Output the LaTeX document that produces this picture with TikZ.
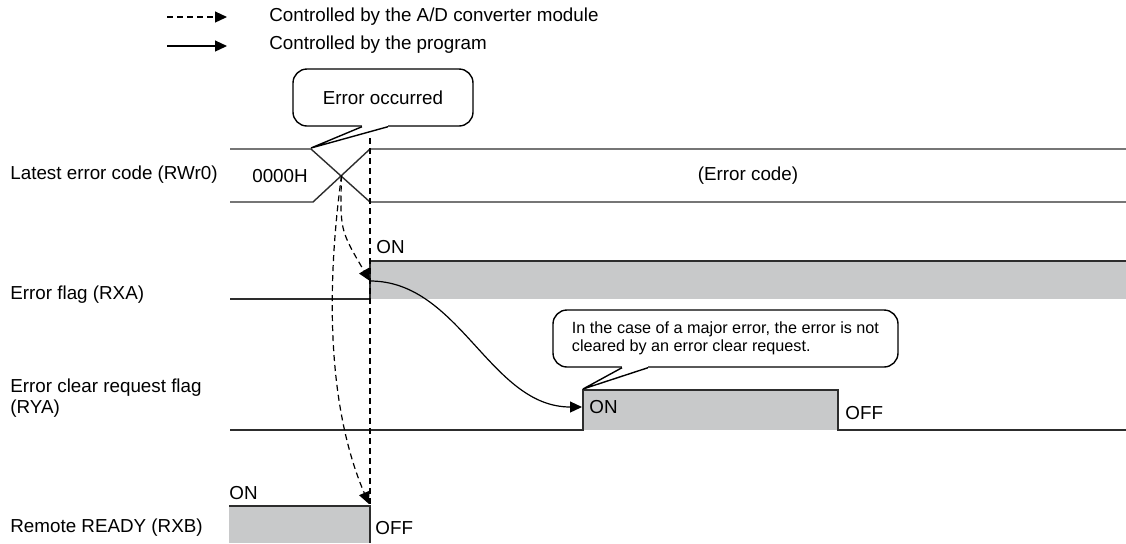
\documentclass[tikz,border=0pt]{standalone}
\usepackage{fontspec}
\setmainfont{Liberation Sans}
\usetikzlibrary{arrows.meta,calc}
\definecolor{cHigh}{RGB}{200,201,202}
\definecolor{cLine}{RGB}{45,45,45}

\begin{document}
\begin{tikzpicture}[
  x=0.5pt, y=-0.5pt,
  font=\fontsize{9.4}{10.2}\selectfont,
  sig/.style={line width=0.7pt, draw=cLine},
  high/.style={fill=cHigh},
  lbl/.style={anchor=west, inner sep=0pt, align=left},
  callout/.style={draw=black, line width=0.7pt, rounded corners=7pt,
    fill=white, align=left, inner sep=0pt},
  byunit/.style={-{Triangle[length=6pt, width=5.5pt]}, line width=0.6pt,
    dash pattern=on 3pt off 2pt},
  byprog/.style={-{Triangle[length=6pt, width=5.5pt]}, line width=0.6pt},
]
\useasboundingbox (0,0) rectangle (1126,543);

% legend
\coordinate (lg1a) at (167,17);
\coordinate (lg1b) at (227,17);
\coordinate (lg2a) at (167,46);
\coordinate (lg2b) at (227,46);
\draw[byunit] (lg1a) -- (lg1b);
\draw[byprog] (lg2a) -- (lg2b);
\node[lbl] (lgunit) at (269,17) {Controlled by the A/D converter module};
\node[lbl] (lgprog) at (269,45) {Controlled by the program};

% signal names
\node[lbl] (lblcode) at (10,175) {Latest error code (RWr0)};
\node[lbl] (lblflag) at (10,295) {Error flag (RXA)};
\node[lbl] (lblclr) at (10,398) {Error clear request flag\\(RYA)};
\node[lbl] (lblrdy) at (10,528) {Remote READY (RXB)};

% high levels
\fill[high] (370,261) rectangle (1126,299);
\fill[high] (583,390) rectangle (838,430);
\fill[high] (229,506) rectangle (370,543);

% latest error code
\draw[sig] (230,149) -- (311,149) -- (370,202) -- (1126,202);
\draw[sig] (230,202) -- (313,202) -- (370,149) -- (1126,149);
\coordinate (cross) at (341.5,175.5);
\node (code0) at (280,176) {0000H};
\node (codeerr) at (748,176) {(Error code)};

% error flag
\draw[sig] (230,299) -- (370,299) -- (370,261) -- (1126,261);
\node[lbl] (flagon) at (376,247) {ON};

% error clear request flag
\draw[sig] (230,430) -- (583,430) -- (583,390) -- (838,390) -- (838,430) -- (1126,430);
\node[lbl] (clron) at (589,407) {ON};
\node[lbl] (clroff) at (845,413) {OFF};

% remote ready
\draw[sig] (229,506) -- (370,506) -- (370,543);
\node[lbl] (rdyon) at (229,493) {ON};
\node[lbl] (rdyoff) at (375,528) {OFF};

% callouts
\node[callout, minimum width=90pt, minimum height=28.5pt, align=center]
  (errocc) at (383,97.5) {Error occurred};
\coordinate (errtip) at (311,148);
\fill[white] ($(errocc.south)+(-21,-2)$) rectangle ($(errocc.south)+(5,2)$);
\draw[line width=0.7pt] ($(errocc.south)+(-21,0)$) -- (errtip) -- ($(errocc.south)+(5,0)$);

\node[callout, minimum width=172.5pt, minimum height=28.5pt,
  font=\fontsize{8.1}{9}\selectfont]
  (major) at (725.5,338.5) {In the case of a major error, the error is not\\cleared by an error clear request.};
\coordinate (majtip) at (583,389);
\fill[white] ($(major.south)+(-103.5,-2)$) rectangle ($(major.south)+(-77.5,2)$);
\draw[line width=0.7pt] ($(major.south)+(-103.5,0)$) -- (majtip) -- ($(major.south)+(-77.5,0)$);

% transitions
\coordinate (flagrise) at (370,281);
\coordinate (clrrise) at (582,407);
\coordinate (rdyfall) at (369,504);
\draw[dash pattern=on 3pt off 2pt, line width=0.6pt] (370,138) -- (370,506);
\draw[byunit] (cross) .. controls (340,230) .. (flagrise);
\draw[byunit] (cross) .. controls (322,320) and (335,425) .. (rdyfall);
\draw[byprog] (flagrise) .. controls (460,281) and (490,407) .. (clrrise);
\end{tikzpicture}
\end{document}
